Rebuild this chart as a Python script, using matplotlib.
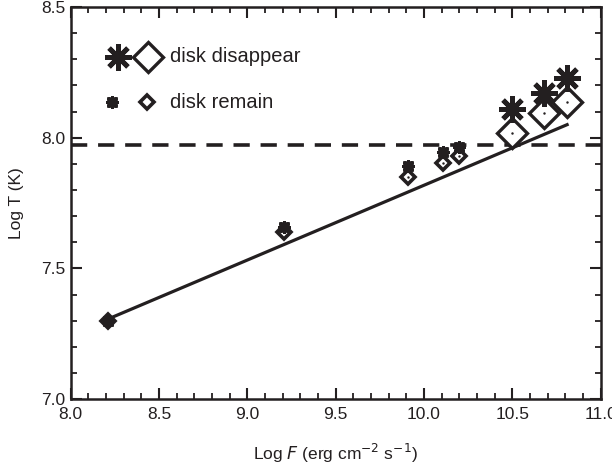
import numpy as np
import matplotlib
matplotlib.use('Agg')
import matplotlib.pyplot as plt
from matplotlib.ticker import MultipleLocator

plt.rcParams['font.family'] = ['Liberation Sans', 'DejaVu Sans']

ink = '#231f20'

# disk remain: small symbols
remain_logF = [8.21, 9.21, 9.91, 10.11, 10.20]
remain_star = [7.30, 7.66, 7.89, 7.946, 7.966]
remain_diam = [7.30, 7.64, 7.85, 7.905, 7.932]

# disk disappear: large symbols
gone_logF = [10.50, 10.68, 10.81]
gone_star = [8.11, 8.17, 8.23]
gone_diam = [8.02, 8.095, 8.135]

# linear fit and threshold
fit_logF = [8.21, 10.81]
fit_logT = [7.306, 8.05]
threshold = 7.973

fig = plt.figure(figsize=(6.12, 4.69), dpi=100)
ax = fig.add_axes([0.1155, 0.149, 0.866, 0.836])

ax.plot(fit_logF, fit_logT, '-', color=ink, lw=2.3, zorder=2)
ax.axhline(threshold, color=ink, lw=2.6, ls=(0, (4.5, 3)), zorder=2)

star = (8, 2, 0)
small_blob = dict(marker='s', ms=6.5, mfc=ink, mec=ink, mew=0.5, ls='none')
small_star = dict(marker=star, ms=9, mec=ink, mew=2.0, ls='none')
small_diam = dict(marker='D', ms=7, mfc='white', mec=ink, mew=2.6, ls='none')
big_star = dict(marker=star, ms=19, mec=ink, mew=3.5, ls='none')
big_diam = dict(marker='D', ms=15, mfc='white', mec=ink, mew=2.4, ls='none')

ax.plot(remain_logF, remain_diam, zorder=3, **small_diam)
ax.plot(remain_logF, remain_diam, '.', ms=1.5, color=ink, ls='none', zorder=4)
ax.plot(remain_logF, remain_star, zorder=5, **small_blob)
ax.plot(remain_logF, remain_star, zorder=5, **small_star)

ax.plot(gone_logF, gone_diam, zorder=3, **big_diam)
ax.plot(gone_logF, gone_diam, '.', ms=1.5, color=ink, ls='none', zorder=4)
ax.plot(gone_logF, gone_star, zorder=5, **big_star)

# legend drawn by hand
ax.plot([8.265], [8.309], **big_star)
ax.plot([8.44], [8.309], **big_diam)
ax.text(8.56, 8.309, 'disk disappear', fontsize=14.5, va='center', color=ink)
ax.plot([8.235], [8.136], **small_blob)
ax.plot([8.235], [8.136], **small_star)
ax.plot([8.43], [8.136], **small_diam)
ax.text(8.56, 8.136, 'disk remain', fontsize=14.5, va='center', color=ink)

ax.set_xlim(8.0, 11.0)
ax.set_ylim(7.0, 8.5)
ax.xaxis.set_major_locator(MultipleLocator(0.5))
ax.xaxis.set_minor_locator(MultipleLocator(0.1))
ax.yaxis.set_major_locator(MultipleLocator(0.5))
ax.yaxis.set_minor_locator(MultipleLocator(0.1))
ax.xaxis.set_major_formatter(matplotlib.ticker.FormatStrFormatter('%.1f'))
ax.yaxis.set_major_formatter(matplotlib.ticker.FormatStrFormatter('%.1f'))
ax.tick_params(which='both', direction='in', top=True, right=True, color=ink,
               labelsize=12.5, labelcolor=ink)
ax.tick_params(which='major', length=8, width=1.5)
ax.tick_params(axis='x', which='major', pad=6)
ax.tick_params(axis='y', which='major', pad=4)
ax.tick_params(which='minor', length=4, width=1.3)
for s in ax.spines.values():
    s.set_linewidth(1.8)
    s.set_color(ink)

ax.set_xlabel('Log $F$ (erg cm$^{-2}$ s$^{-1}$)', fontsize=12.5, color=ink, labelpad=14)
ax.set_ylabel('Log T (K)', fontsize=12.5, color=ink, labelpad=12)

fig.savefig('out.png', dpi=100)
